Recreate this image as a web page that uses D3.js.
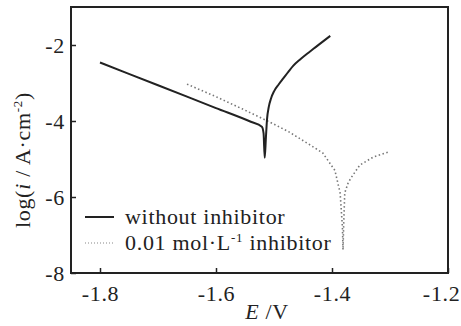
<!DOCTYPE html>
<html>
<head>
<meta charset="utf-8">
<script src="https://cdn.jsdelivr.net/npm/d3@7"></script>
<style>
  body { margin: 0; background: #fff; }
  text { font-family: "Liberation Serif", "Times New Roman", serif; fill: #222; }
</style>
</head>
<body>
<div id="chart"></div>
<script>
// polarization curves, E (V) vs log(i / A cm^-2)
const withoutInh = [
  [-1.800, -2.46], [-1.700, -3.06], [-1.600, -3.66], [-1.540, -4.02],
  [-1.521, -4.15], [-1.518, -4.32], [-1.516, -4.97], [-1.514, -4.45],
  [-1.512, -3.95], [-1.509, -3.63], [-1.505, -3.40], [-1.500, -3.22],
  [-1.492, -3.04], [-1.484, -2.88], [-1.475, -2.70], [-1.467, -2.55],
  [-1.455, -2.38], [-1.443, -2.23], [-1.432, -2.10], [-1.421, -1.97],
  [-1.403, -1.76]
];
const withInh = [
  [-1.650, -3.03], [-1.600, -3.36], [-1.555, -3.68], [-1.507, -4.03],
  [-1.475, -4.28], [-1.443, -4.58], [-1.416, -4.84], [-1.395, -5.30],
  [-1.386, -5.89], [-1.382, -6.80], [-1.381, -7.39], [-1.380, -6.80],
  [-1.378, -5.89], [-1.372, -5.62], [-1.366, -5.47], [-1.352, -5.16],
  [-1.329, -4.95], [-1.303, -4.82]
];
const xTicks = [-1.8, -1.6, -1.4, -1.2];
const yTicks = [-2, -4, -6, -8];

const width = 461, height = 326;
const margin = {top: 7, right: 13, bottom: 53, left: 71};
const fs = "22px", ls = "0.7px";

const svg = d3.select("#chart").append("svg")
    .attr("width", width)
    .attr("height", height);

const x = d3.scaleLinear()
    .domain([-1.85, -1.2])
    .range([margin.left, width - margin.right]);
const y = d3.scaleLinear()
    .domain([-8, -1])
    .range([height - margin.bottom, margin.top]);

// frame
svg.append("rect")
    .attr("x", margin.left)
    .attr("y", margin.top)
    .attr("width", width - margin.left - margin.right)
    .attr("height", height - margin.top - margin.bottom)
    .attr("fill", "none")
    .attr("stroke", "#222")
    .attr("stroke-width", 2);

// x axis, ticks pointing inward
const xAxis = svg.append("g")
    .attr("transform", "translate(0," + y(-8) + ")")
    .call(d3.axisBottom(x).tickValues(xTicks).tickSize(-5).tickPadding(12));
xAxis.select(".domain").remove();
xAxis.selectAll("line").attr("stroke", "#222").attr("stroke-width", 1.5);
xAxis.selectAll("text")
    .style("font-family", "Liberation Serif, serif")
    .style("font-size", fs)
    .style("letter-spacing", ls)
    .attr("fill", "#222")
    .attr("dy", "0.71em")
    .attr("text-anchor", d => d === -1.2 ? "end" : "middle")
    .attr("x", d => d === -1.2 ? 12 : 0)
    .text(d => d3.format(".1f")(d).replace("−", "-"));

const yAxis = svg.append("g")
    .attr("transform", "translate(" + x(-1.85) + ",0)")
    .call(d3.axisLeft(y).tickValues(yTicks).tickSize(-5).tickPadding(6));
yAxis.select(".domain").remove();
yAxis.selectAll("line").attr("stroke", "#222").attr("stroke-width", 1.5);
yAxis.selectAll("text")
    .style("font-family", "Liberation Serif, serif")
    .style("font-size", fs)
    .style("letter-spacing", ls)
    .attr("fill", "#222")
    .text(d => String(d).replace("−", "-"));

const line = d3.line()
    .x(d => x(d[0]))
    .y(d => y(d[1]));

svg.append("path")
    .datum(withInh)
    .attr("d", line)
    .attr("fill", "none")
    .attr("stroke", "#777")
    .attr("stroke-width", 1.6)
    .attr("stroke-dasharray", "1.5,2.5");

svg.append("path")
    .datum(withoutInh)
    .attr("d", line.curve(d3.curveMonotoneX))
    .attr("fill", "none")
    .attr("stroke", "#222")
    .attr("stroke-width", 2)
    .attr("stroke-linejoin", "round");

// legend
const legend = svg.append("g");
legend.append("line")
    .attr("x1", 85).attr("x2", 114).attr("y1", 217).attr("y2", 217)
    .attr("stroke", "#222").attr("stroke-width", 2);
legend.append("text")
    .attr("x", 125).attr("y", 224)
    .style("font-size", fs)
    .style("letter-spacing", ls)
    .text("without inhibitor");
legend.append("line")
    .attr("x1", 85).attr("x2", 114).attr("y1", 243).attr("y2", 243)
    .attr("stroke", "#888").attr("stroke-width", 1.2)
    .attr("stroke-dasharray", "1,2");
const t2 = legend.append("text")
    .attr("x", 125).attr("y", 250)
    .style("font-size", fs)
    .style("letter-spacing", ls);
t2.append("tspan").text("0.01 mol·L");
t2.append("tspan").attr("dy", -8).style("font-size", "13px").text("-1");
t2.append("tspan").attr("dy", 8).text(" inhibitor");

// axis titles
const xl = svg.append("text")
    .attr("x", 267).attr("y", 319)
    .attr("text-anchor", "middle")
    .style("font-size", fs)
    .style("letter-spacing", ls);
xl.append("tspan").style("font-style", "italic").text("E");
xl.append("tspan").text(" /V");

const yl = svg.append("text")
    .attr("transform", "translate(30,160) rotate(-90)")
    .attr("text-anchor", "middle")
    .style("font-size", fs)
    .style("letter-spacing", ls);
yl.append("tspan").text("log(");
yl.append("tspan").style("font-style", "italic").text("i");
yl.append("tspan").text(" / A·cm");
yl.append("tspan").attr("dy", -8).style("font-size", "13px").text("-2");
yl.append("tspan").attr("dy", 8).text(")");
</script>
</body>
</html>
